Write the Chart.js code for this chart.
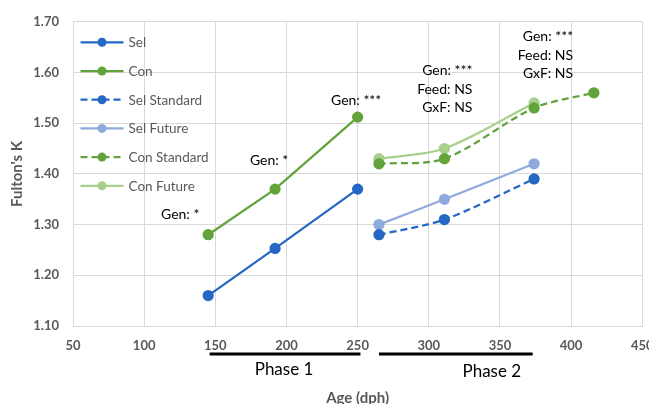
<!DOCTYPE html>
<html>
<head>
<meta charset="utf-8">
<script src="https://cdn.jsdelivr.net/npm/chart.js@4"></script>
<style>
html,body{margin:0;padding:0;background:#fff;}
canvas{display:block;}
</style>
</head>
<body>
<canvas id="c" width="649" height="404"></canvas>
<script>
// ---- data ----
const phase1Ages = [145, 192, 250];
const selValues = [1.16, 1.253, 1.37];
const conValues = [1.28, 1.37, 1.512];
const phase2Ages = [265, 311, 374];
const selStandardValues = [1.28, 1.31, 1.39];
const selFutureValues = [1.30, 1.35, 1.42];
const conStandardAges = [265, 311, 374, 416];
const conStandardValues = [1.42, 1.43, 1.53, 1.56];
const conFutureValues = [1.43, 1.45, 1.54];
const seriesNames = ['Sel', 'Con', 'Sel Standard', 'Sel Future', 'Con Standard', 'Con Future'];
const xTicks = [50, 100, 150, 200, 250, 300, 350, 400, 450];
const yTicks = [1.10, 1.20, 1.30, 1.40, 1.50, 1.60, 1.70];
const phaseNames = ['Phase 1', 'Phase 2'];
const phaseStart = [146, 265];
const phaseEnd = [252, 373];
const statLabels = [
  ['Gen: *'],
  ['Gen: *'],
  ['Gen: ***'],
  ['Gen: ***', 'Feed: NS', 'GxF: NS'],
  ['Gen: ***', 'Feed: NS', 'GxF: NS']
];

const zip = (xs, ys) => ys.map((y, i) => ({x: xs[i], y: y}));

const C_SEL = '#2567c5', C_CON = '#62a33c', C_SELF = '#8eaadc', C_CONF = '#a8d08d';
const DASH = [7, 4];

function ds(label, data, color, dashed, tension) {
  return {
    label, data,
    borderColor: color, backgroundColor: color,
    pointBackgroundColor: color, pointBorderColor: color,
    borderWidth: 2.25, pointRadius: 4.5, pointHoverRadius: 4.5,
    borderDash: dashed ? DASH : [],
    tension: tension, fill: false
  };
}

const datasets = [
  ds(seriesNames[0], zip(phase1Ages, selValues), C_SEL, false, 0),
  ds(seriesNames[1], zip(phase1Ages, conValues), C_CON, false, 0),
  ds(seriesNames[2], zip(phase2Ages, selStandardValues), C_SEL, true, 0.3),
  ds(seriesNames[3], zip(phase2Ages, selFutureValues), C_SELF, false, 0.3),
  ds(seriesNames[4], zip(conStandardAges, conStandardValues), C_CON, true, 0.3),
  ds(seriesNames[5], zip(phase2Ages, conFutureValues), C_CONF, false, 0.3)
];

const FONT = 'Lato, "Noto Sans", sans-serif';

const overlay = {
  id: 'overlay',
  afterDraw(chart) {
    const ctx = chart.ctx, xs = chart.scales.x, ys = chart.scales.y, ca = chart.chartArea;
    ctx.save();
    // legend
    ctx.font = '13.5px ' + FONT;
    ctx.textBaseline = 'middle';
    ctx.textAlign = 'left';
    datasets.forEach((d, i) => {
      const y = ca.top + 20.5 + i * 28.7;
      const x0 = ca.left + 7.5;
      ctx.strokeStyle = d.borderColor;
      ctx.lineWidth = 2.25;
      ctx.setLineDash(d.borderDash);
      ctx.beginPath(); ctx.moveTo(x0, y); ctx.lineTo(x0 + 43, y); ctx.stroke();
      ctx.setLineDash([]);
      ctx.fillStyle = d.borderColor;
      ctx.beginPath(); ctx.arc(x0 + 21.5, y, 4.5, 0, Math.PI * 2); ctx.fill();
      ctx.fillStyle = '#595959';
      ctx.fillText(d.label, x0 + 48, y + 0.5);
    });
    // stat annotations anchored to Con / Con Future points
    ctx.fillStyle = '#000';
    ctx.font = '14px ' + FONT;
    const px = (a) => xs.getPixelForValue(a), py = (v) => ys.getPixelForValue(v);
    const anchors = [
      {x: px(phase1Ages[0]) - 28, y: py(conValues[0]) - 20, align: 'center'},
      {x: px(phase1Ages[1]) - 6, y: py(conValues[1]) - 29, align: 'center'},
      {x: px(phase1Ages[2]) - 1.5, y: py(conValues[2]) - 17, align: 'center'},
      {x: px(phase2Ages[1]) + 28, y: py(conFutureValues[1]) - 41, align: 'right'},
      {x: px(phase2Ages[2]) + 39, y: py(conFutureValues[2]) - 29.5, align: 'right'}
    ];
    statLabels.forEach((lines, i) => {
      const a = anchors[i];
      ctx.textAlign = a.align;
      lines.forEach((t, j) => {
        ctx.fillText(t, a.x, a.y - (lines.length - 1 - j) * 18.3);
      });
    });
    // phase bars
    ctx.strokeStyle = '#000';
    ctx.lineWidth = 3;
    ctx.font = '17px ' + FONT;
    ctx.textAlign = 'center';
    phaseNames.forEach((n, i) => {
      const x0 = px(phaseStart[i]), x1 = px(phaseEnd[i]);
      ctx.beginPath(); ctx.moveTo(x0, 354); ctx.lineTo(x1, 354); ctx.stroke();
      const cx = i === 0 ? (x0 + x1) / 2 - 1 : (x0 + x1) / 2 + 36;
      ctx.fillText(n, cx, i === 0 ? 369.5 : 372);
    });
    ctx.restore();
  }
};

new Chart(document.getElementById('c'), {
  type: 'line',
  data: {datasets},
  plugins: [overlay],
  options: {
    responsive: false,
    devicePixelRatio: 1,
    animation: false,
    events: [],
    layout: {padding: {top: 20, right: -10, left: 0, bottom: 0}},
    plugins: {legend: {display: false}, tooltip: {enabled: false}},
    scales: {
      x: {
        type: 'linear', min: 50, max: 450,
        afterFit: s => { s.height = 78; s.paddingRight = 0; s.paddingLeft = 0; },
        afterBuildTicks: s => { s.ticks = xTicks.map(v => ({value: v})); },
        grid: {color: '#d9d9d9', lineWidth: 1, drawTicks: false},
        border: {color: '#d9d9d9'},
        ticks: {padding: 12, color: '#595959', font: {family: FONT, size: 13, weight: 'bold'}, maxRotation: 0},
        title: {display: true, text: 'Age (dph)', color: '#595959', font: {family: FONT, size: 15, weight: 'bold', lineHeight: 1.2}, padding: {top: 0, bottom: -3}}
      },
      y: {
        type: 'linear', min: 1.1, max: 1.7,
        afterFit: s => { s.width = 73; },
        afterBuildTicks: s => { s.ticks = yTicks.map(v => ({value: v})); },
        grid: {color: '#d9d9d9', lineWidth: 1, drawTicks: false},
        border: {color: '#d9d9d9'},
        ticks: {padding: 14, color: '#595959', font: {family: FONT, size: 13, weight: 'bold'}, callback: v => v.toFixed(2)},
        title: {display: true, text: "Fulton's K", color: '#595959', font: {family: FONT, size: 15, weight: 'bold', lineHeight: 1.2}, padding: {top: 8, bottom: 0}}
      }
    }
  }
});
</script>
</body>
</html>
